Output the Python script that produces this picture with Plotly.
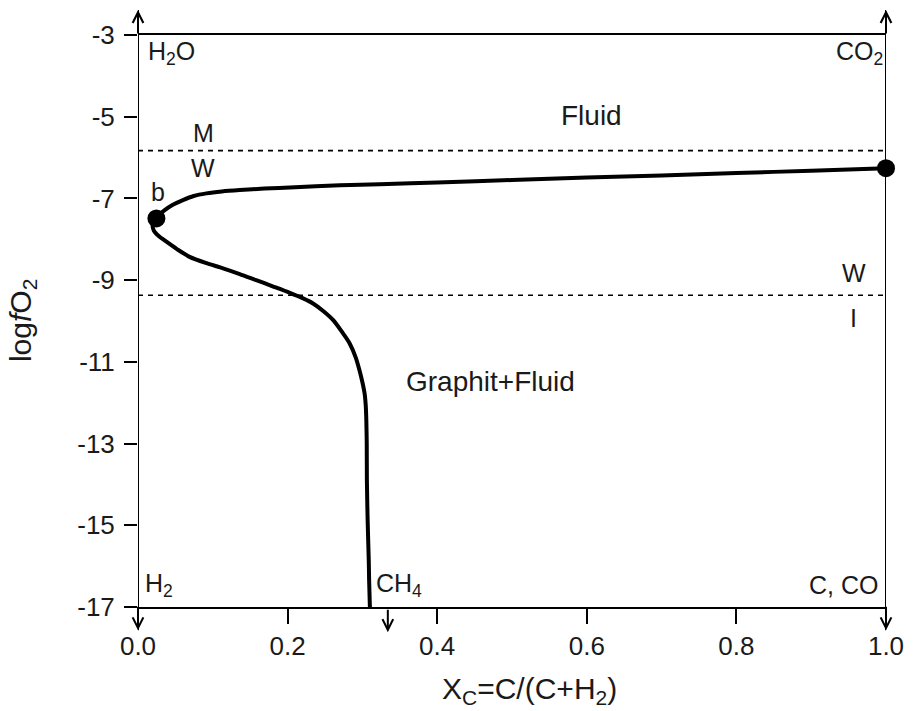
import plotly.graph_objects as go

# ---- data ----
curve_x = [1.0, 0.9, 0.8, 0.7, 0.6, 0.5, 0.4, 0.323, 0.270, 0.203, 0.169, 0.136,
           0.112, 0.0914, 0.0745, 0.060, 0.046, 0.0357, 0.029, 0.0246, 0.0197,
           0.021, 0.0277, 0.038, 0.052, 0.069, 0.0905, 0.1136, 0.136, 0.158,
           0.180, 0.203, 0.220, 0.234, 0.248, 0.261, 0.272, 0.283, 0.291, 0.296,
           0.300, 0.303, 0.3045, 0.3052, 0.3058, 0.306, 0.307, 0.3085, 0.309, 0.310]
curve_y = [-6.26, -6.32, -6.38, -6.44, -6.49, -6.55, -6.61, -6.65, -6.68, -6.73,
           -6.76, -6.796, -6.83, -6.877, -6.94, -7.04, -7.16, -7.286, -7.39, -7.49,
           -7.63, -7.78, -7.92, -8.06, -8.24, -8.43, -8.58, -8.71, -8.85, -9.00,
           -9.15, -9.31, -9.44, -9.57, -9.76, -9.98, -10.25, -10.55, -10.89, -11.2,
           -11.50, -11.78, -12.08, -12.4, -13.0, -13.9, -14.88, -15.86, -16.35, -17.0]

point_names = ["a", "b"]
point_x = [1.0, 0.0246]
point_y = [-6.26, -7.49]

buffer_names = [("M", "W"), ("W", "I")]
buffer_y = [-5.83, -9.37]

x_ticks = [0.0, 0.2, 0.4, 0.6, 0.8, 1.0]
x_ticklabels = ["0.0", "0.2", "0.4", "0.6", "0.8", "1.0"]
y_ticks = [-3, -5, -7, -9, -11, -13, -15, -17]
y_ticklabels = ["-3", "-5", "-7", "-9", "-11", "-13", "-15", "-17"]

FONT = "Liberation Sans, Arial, sans-serif"
TXT = "#1a1a1a"

fig = go.Figure()

fig.add_trace(go.Scatter(
    x=curve_x, y=curve_y, mode="lines",
    line=dict(color="black", width=4, shape="spline", smoothing=0.8),
    hoverinfo="skip", showlegend=False, cliponaxis=False))

fig.add_trace(go.Scatter(
    x=point_x, y=point_y, mode="markers",
    marker=dict(color="black", size=18),
    hoverinfo="skip", showlegend=False, cliponaxis=False))

shapes = []
for yv in buffer_y:
    shapes.append(dict(type="line", xref="x", yref="y", x0=0, x1=1, y0=yv, y1=yv,
                       line=dict(color="black", width=1.6, dash="5px,5px")))
# vertical axis lines extending beyond the plot
for xv in [0.0, 1.0]:
    shapes.append(dict(type="line", xref="x", yref="paper", x0=xv, x1=xv,
                       y0=-0.0408, y1=1.0437, line=dict(color="black", width=2)))

annotations = []
# arrow heads
for xv in [0.0, 1.0]:
    annotations.append(dict(x=xv, y=1.0437, xref="x", yref="paper", ax=0, ay=25,
                            text="", showarrow=True, arrowhead=5, arrowsize=1.05,
                            arrowwidth=2, arrowcolor="black"))
    annotations.append(dict(x=xv, y=-0.0408, xref="x", yref="paper", ax=0, ay=-25,
                            text="", showarrow=True, arrowhead=5, arrowsize=1.05,
                            arrowwidth=2, arrowcolor="black"))
annotations.append(dict(x=0.334, y=-0.044, xref="x", yref="paper", ax=0, ay=-24,
                        text="", showarrow=True, arrowhead=5, arrowsize=1.05,
                        arrowwidth=2, arrowcolor="black"))


def label(text, x, y, size=25, xanchor="center", yanchor="middle"):
    annotations.append(dict(x=x, y=y, xref="x", yref="y", text=text, showarrow=False,
                            xanchor=xanchor, yanchor=yanchor,
                            font=dict(family=FONT, size=size, color=TXT)))


label("H<sub>2</sub>O", 0.011, -3.45, xanchor="left")
label("CO<sub>2</sub>", 0.998, -3.45, xanchor="right")
label("H<sub>2</sub>", 0.007, -16.47, xanchor="left")
label("CH<sub>4</sub>", 0.316, -16.47, xanchor="left")
label("C, CO", 0.992, -16.47, xanchor="right")
label("Fluid", 0.606, -4.98, size=28)
label("Graphit+Fluid", 0.471, -11.47, size=28)
label(buffer_names[0][0], 0.087, -5.40)
label(buffer_names[0][1], 0.087, -6.26)
label(buffer_names[1][0], 0.957, -8.83)
label(buffer_names[1][1], 0.957, -9.93)
label(point_names[0], 1.036, point_y[0])
label(point_names[1], 0.027, -6.85)

# axis titles
annotations.append(dict(x=0.524, y=-0.146, xref="paper", yref="paper",
                        text="X<sub>C</sub>=C/(C+H<sub>2</sub>)", showarrow=False,
                        xanchor="center", yanchor="middle",
                        font=dict(family=FONT, size=30, color=TXT)))
annotations.append(dict(x=-0.155, y=0.5, xref="paper", yref="paper",
                        text="log<i>f</i>O<sub>2</sub>", showarrow=False, textangle=-90,
                        xanchor="center", yanchor="middle",
                        font=dict(family=FONT, size=30, color=TXT)))

fig.update_layout(
    width=921, height=711,
    margin=dict(l=138, r=35, t=35, b=104, autoexpand=False),
    paper_bgcolor="white", plot_bgcolor="white",
    shapes=shapes, annotations=annotations,
    font=dict(family=FONT, color=TXT),
    xaxis=dict(range=[0, 1], tickvals=x_ticks, ticktext=x_ticklabels,
               ticks="outside", ticklen=15, tickwidth=2, tickcolor="black",
               showline=True, mirror=True, linecolor="black", linewidth=2,
               showgrid=False, zeroline=False,
               tickfont=dict(family=FONT, size=26, color=TXT)),
    yaxis=dict(range=[-17, -3], tickvals=y_ticks, ticktext=y_ticklabels,
               ticks="outside", ticklen=13, tickwidth=2, tickcolor="black",
               showline=False, showgrid=False, zeroline=False,
               ticklabelstandoff=4,
               tickfont=dict(family=FONT, size=26, color=TXT)),
)

fig.write_html("out.html")
